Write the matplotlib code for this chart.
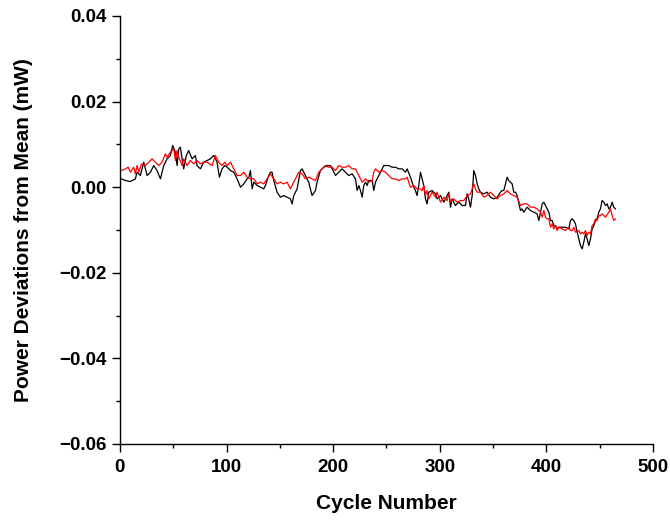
import matplotlib
matplotlib.use("Agg")
import matplotlib.pyplot as plt
from matplotlib.ticker import MultipleLocator

plt.rcParams['font.family'] = ['Liberation Sans', 'DejaVu Sans']
plt.rcParams['font.weight'] = 'bold'

# Black series (cycle, deviation in mW)
black_x = [1.4, 5.2, 9.8, 14.5, 16.1, 19.2, 22.3, 25.5, 28.6, 31.7, 34.8, 38.0, 41.1, 44.2, 47.3, 49.5,
           52.0, 53.6, 55.2, 56.7, 58.3, 59.8, 62.3, 64.5, 67.7, 70.8, 72.3, 75.5, 78.6, 81.7, 84.8, 88.0,
           91.1, 93.3, 95.8, 98.3, 100.6, 103.7, 106.8, 109.9, 113.1, 116.2, 119.3, 120.9, 122.4, 124.0,
           125.6, 128.7, 131.8, 134.9, 136.5, 139.6, 141.2, 142.7, 144.3, 147.4, 150.6, 153.7, 156.8,
           159.9, 161.5, 163.1, 166.2, 169.3, 170.9, 174.0, 177.1, 180.2, 183.4, 184.9, 188.1, 191.2,
           194.3, 197.4, 199.1, 202.2, 205.3, 208.4, 211.6, 214.7, 217.8, 220.9, 222.5, 224.1, 225.6,
           227.2, 228.7, 230.3, 231.9, 233.4, 236.6, 238.1, 239.7, 242.8, 245.9, 247.5, 249.1, 252.2,
           255.3, 258.4, 261.6, 264.7, 267.8, 269.4, 272.5, 275.6, 277.2, 278.7, 280.3, 281.9, 283.4,
           285.0, 286.6, 288.1, 289.7, 292.8, 296.0, 297.5, 300.7, 303.8, 306.9, 308.5, 310.1, 311.6,
           314.7, 317.9, 321.0, 324.1, 325.7, 327.2, 328.8, 330.4, 331.9, 333.5, 335.1, 336.6, 338.2,
           341.3, 344.4, 347.5, 350.7, 353.8, 356.9, 358.5, 360.1, 361.6, 363.2, 364.7, 366.3, 367.9,
           369.4, 371.0, 372.6, 375.7, 377.2, 378.8, 381.9, 385.1, 388.2, 391.3, 392.9, 394.5, 396.1,
           397.6, 399.2, 400.7, 402.3, 403.9, 405.4, 407.0, 408.6, 410.1, 411.7, 414.8, 417.9, 421.1,
           422.6, 424.2, 425.7, 427.3, 428.9, 430.4, 432.0, 433.6, 435.1, 436.7, 438.2, 439.8, 441.4,
           442.9, 444.5, 446.1, 447.6, 449.2, 450.7, 452.3, 453.9, 455.4, 457.0, 458.6, 460.1, 461.7,
           463.2, 464.8]
black_y = [1.95, 1.56, 1.32, 1.95, 3.50, 2.73, 5.84, 2.73, 3.50, 5.06, 3.89, 1.95, 5.06, 6.62, 7.40, 9.74,
           8.18, 5.06, 8.96, 9.35, 6.62, 4.28, 7.40, 8.57, 6.62, 7.40, 5.06, 4.28, 5.84, 6.23, 6.62, 7.40,
           5.84, 2.34, 4.28, 5.06, 4.67, 3.89, 3.50, 1.95, 0.00, 0.78, 1.95, 2.34, 3.89, -0.39,
           1.17, 0.39, 0.00, -0.39, 0.39, 2.73, 3.50, 3.50, 1.56, -1.17, -2.34, -1.95, -2.34,
           -2.73, -3.89, -1.95, -0.39, 3.89, 4.28, 2.73, 1.17, -1.95, -0.78, 1.17, 3.89, 4.67,
           5.06, 5.06, 4.28, 2.73, 3.50, 4.28, 3.50, 2.73, 3.12, 1.95, -0.78, 0.39, -0.78,
           -2.34, 0.39, 1.17, 0.39, 1.56, 1.56, -0.78, 1.17, 2.73, 4.28, 5.06, 5.06, 5.06,
           4.67, 4.67, 4.28, 4.28, 3.50, 4.28, 2.34, 0.00, -0.78, -1.95, 0.39, 3.50, 1.95,
           0.39, -2.73, -3.89, -1.17, -0.78, -1.56, -2.73, -1.95, -3.50, -1.95, -1.17, -4.67, -2.73,
           -4.28, -3.50, -4.28, -4.28, -1.56, -2.73, -4.67, -1.95, 3.89, 2.73, 0.78, -0.39, -1.17,
           -1.56, -1.17, -2.34, -2.73, -2.34, -1.17, -0.78, -0.78, 0.78, 2.34, 1.56, 1.17, 0.78,
           -1.17, -1.17, -1.95, -5.45, -5.06, -5.84, -4.67, -5.45, -5.84, -6.23, -7.79, -5.84, -3.89,
           -3.50, -4.28, -5.06, -5.84, -7.79, -7.79, -8.96, -8.96, -9.74, -9.35, -9.35, -9.35, -9.74,
           -7.79, -7.40, -7.79, -8.57, -10.51, -12.07, -13.63, -14.41, -12.85, -10.90, -12.07, -13.63, -12.07,
           -9.74, -8.96, -7.79, -7.40, -5.84, -5.06, -3.12, -3.50, -4.28, -3.89, -5.06, -4.67, -3.50,
           -4.67, -5.06]

# Red series (cycle, deviation in mW)
red_x = [1.4, 5.2, 7.7, 9.8, 13.0, 14.5, 16.1, 17.7, 20.2, 23.9, 30.2, 33.3, 36.4, 39.5, 42.7, 44.2,
         47.3, 50.5, 52.0, 53.6, 55.2, 58.3, 59.8, 63.0, 66.1, 69.2, 72.3, 75.5, 78.6, 81.7, 86.4, 89.5,
         92.7, 95.8, 98.3, 100.6, 103.7, 106.8, 109.9, 113.1, 116.2, 119.3, 122.4, 125.6, 128.7, 131.8,
         134.9, 138.1, 141.2, 144.3, 147.4, 150.6, 153.7, 156.8, 159.9, 161.5, 164.6, 167.7, 170.9,
         174.0, 177.1, 180.2, 183.4, 186.5, 189.6, 192.7, 195.9, 199.1, 202.2, 205.3, 208.4, 211.6,
         214.7, 217.8, 220.9, 224.1, 227.2, 230.3, 233.4, 236.6, 238.1, 239.7, 242.8, 245.9, 249.1,
         252.2, 255.3, 258.4, 261.6, 264.7, 267.8, 269.4, 272.5, 275.6, 278.7, 281.9, 283.4, 285.0,
         286.6, 288.1, 289.7, 292.8, 296.0, 297.5, 300.7, 303.8, 306.9, 308.5, 310.1, 313.2, 316.3,
         319.4, 322.6, 325.7, 328.8, 331.9, 333.5, 335.1, 338.2, 341.3, 344.4, 347.5, 350.7, 353.8,
         356.9, 360.1, 363.2, 366.3, 369.4, 372.6, 375.7, 378.8, 381.9, 385.1, 388.2, 391.3, 394.5,
         396.1, 397.6, 399.2, 400.7, 402.3, 403.9, 405.4, 407.0, 408.6, 410.1, 411.7, 414.8, 417.9,
         421.1, 422.6, 424.2, 425.7, 427.3, 430.4, 432.0, 433.6, 435.1, 436.7, 438.2, 439.8, 441.4,
         442.9, 444.5, 446.1, 447.6, 449.2, 450.7, 452.3, 455.4, 458.6, 460.1, 461.7, 463.2, 464.8]
red_y = [3.89, 4.28, 4.67, 3.50, 4.67, 3.12, 5.06, 3.50, 5.45, 5.06, 6.62, 5.84, 5.06, 5.84, 7.79, 7.01,
         8.18, 8.96, 6.23, 8.57, 7.01, 5.06, 6.62, 5.06, 6.23, 5.45, 6.23, 5.45, 5.84, 5.84, 5.06, 7.40,
         5.84, 5.06, 5.84, 5.06, 5.84, 4.28, 2.73, 2.73, 3.50, 2.34, 1.95, 1.95, 0.78, 1.17,
         0.78, 1.95, 3.12, 1.95, 0.78, 1.17, 0.78, 1.17, -0.39, 0.39, 1.95, 3.50, 3.12,
         1.95, 2.34, 1.95, 1.56, 3.50, 4.28, 5.06, 4.67, 4.67, 3.89, 5.06, 4.67, 4.67,
         5.06, 4.28, 4.28, 2.73, 1.17, 1.95, 1.17, 1.56, 3.50, 4.28, 3.50, 3.89, 3.50,
         2.73, 1.95, 1.95, 1.56, 1.95, 1.95, 2.34, 0.00, 0.39, -0.39, -0.39, -0.78, 0.39,
         -1.95, -0.78, -2.73, -1.17, -2.34, -1.17, -3.50, -2.34, -3.12, -1.56, -3.50, -2.73, -3.50,
         -3.12, -3.12, -1.95, -1.56, 0.78, -0.39, -1.17, -1.17, -2.34, -1.95, -1.17, -1.95, -2.73,
         -1.95, -1.56, -0.78, -1.56, -1.95, -2.34, -4.28, -3.89, -3.89, -4.67, -4.67, -5.06, -5.84,
         -7.01, -5.45, -7.01, -7.40, -7.40, -9.35, -8.57, -9.74, -8.96, -10.12, -9.35, -9.74, -10.12,
         -9.35, -10.12, -10.12, -9.35, -10.51, -10.12, -10.90, -10.51, -10.90, -10.12, -11.29, -10.51, -10.90,
         -8.96, -8.57, -7.40, -7.79, -6.62, -6.62, -6.23, -7.01, -5.84, -5.06, -6.62, -7.79, -7.40]

y_ticks = [0.04, 0.02, 0.0, -0.02, -0.04, -0.06]
y_tick_labels = ['0.04', '0.02', '0.00', '\u22120.02', '\u22120.04', '\u22120.06']
x_ticks = [0, 100, 200, 300, 400, 500]

fig = plt.figure(figsize=(6.7, 5.21), dpi=100)
ax = fig.add_axes([0.179, 0.1478, 0.7956, 0.8215])

ax.plot(black_x, [v / 1000 for v in black_y], color='black', lw=0.9)
ax.plot(red_x, [v / 1000 for v in red_y], color='red', lw=0.9)

ax.set_xlim(0, 500)
ax.set_ylim(-0.06, 0.04)
ax.set_xticks(x_ticks)
ax.xaxis.set_minor_locator(MultipleLocator(50))
ax.set_yticks(y_ticks)
ax.set_yticklabels(y_tick_labels)
ax.yaxis.set_minor_locator(MultipleLocator(0.01))

for s in ['top', 'right']:
    ax.spines[s].set_visible(False)
for s in ['left', 'bottom']:
    ax.spines[s].set_linewidth(1.0)

ax.tick_params(which='major', direction='out', length=5.5, width=1.0, labelsize=13.5)
ax.tick_params(axis='y', which='major', pad=4)
ax.tick_params(axis='x', which='major', pad=5)
ax.tick_params(which='minor', direction='out', length=2.6, width=1.0)
for lab in ax.get_xticklabels() + ax.get_yticklabels():
    lab.set_fontweight('bold')

ax.set_xlabel('Cycle Number', fontsize=15, fontweight='bold', va='center')
ax.xaxis.set_label_coords(0.5, -0.139)
ax.set_ylabel('Power Deviations from Mean (mW)', fontsize=15, fontweight='bold', va='center')
ax.yaxis.set_label_coords(-0.1805, 0.5)

fig.savefig('out.png', dpi=100)
